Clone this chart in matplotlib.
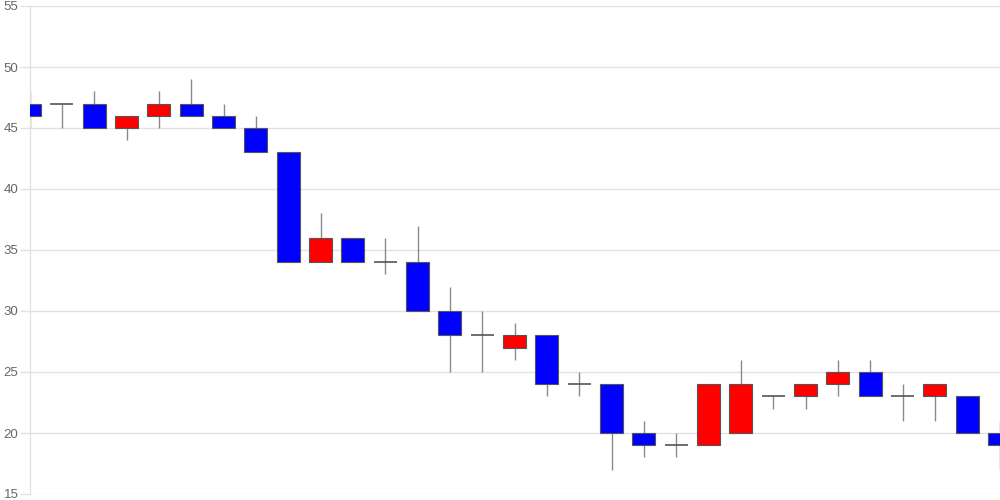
import matplotlib
matplotlib.use("Agg")
import matplotlib.pyplot as plt
import numpy as np

opens  = [47, 47, 47, 45, 46, 47, 46, 45, 43, 34, 36, 34, 34, 30, 28, 27, 28, 24, 24, 20, 19, 19, 20, 23, 23, 24, 25, 23, 23, 23, 20]
highs  = [48, 47, 48, 46, 48, 49, 47, 46, 43, 38, 36, 36, 37, 32, 30, 29, 28, 25, 24, 21, 20, 24, 26, 23, 24, 26, 26, 24, 24, 23, 21]
lows   = [45, 45, 45, 44, 45, 46, 45, 43, 34, 34, 34, 33, 30, 25, 25, 26, 23, 23, 17, 18, 18, 19, 20, 22, 22, 23, 23, 21, 21, 20, 17]
closes = [46, 47, 45, 46, 47, 46, 45, 43, 34, 36, 34, 34, 30, 28, 28, 28, 24, 24, 20, 19, 19, 24, 24, 23, 24, 25, 23, 23, 24, 20, 19]
y_ticks = [15, 20, 25, 30, 35, 40, 45, 50, 55]

plt.rcParams['font.family'] = ['Liberation Sans', 'DejaVu Sans']
fig = plt.figure(figsize=(10, 5), dpi=100)
ax = fig.add_axes([0.0295, 0.012, 0.9700, 0.976])

x = np.arange(len(opens))
w = 0.72
ax.vlines(x, lows, highs, color='#8a8a8a', linewidth=1.0, zorder=2)
for xi, o, c in zip(x, opens, closes):
    if o == c:
        ax.hlines(o, xi - w / 2, xi + w / 2, color='#555555', linewidth=1.2, zorder=3)
    else:
        col = 'red' if c > o else 'blue'
        ax.bar(xi, abs(c - o), bottom=min(o, c), width=w, color=col,
               edgecolor='#555555', linewidth=0.8, zorder=3)

ax.set_xlim(0, len(opens) - 1)
ax.set_ylim(15, 55)
ax.set_yticks(y_ticks)
ax.set_yticklabels([str(t) for t in y_ticks], color='#666666', fontsize=9.5)
ax.tick_params(axis='y', length=7, width=1.0, color='#e2e2e2', pad=1)
ax.set_xticks([])
ax.grid(axis='y', color='#e2e2e2', linewidth=1.0, zorder=0)
ax.set_axisbelow(True)
for s in ['top', 'right', 'bottom']:
    ax.spines[s].set_visible(False)
ax.spines['left'].set_color('#e2e2e2')
ax.spines['left'].set_linewidth(1.0)

fig.savefig('out.png', dpi=100)
